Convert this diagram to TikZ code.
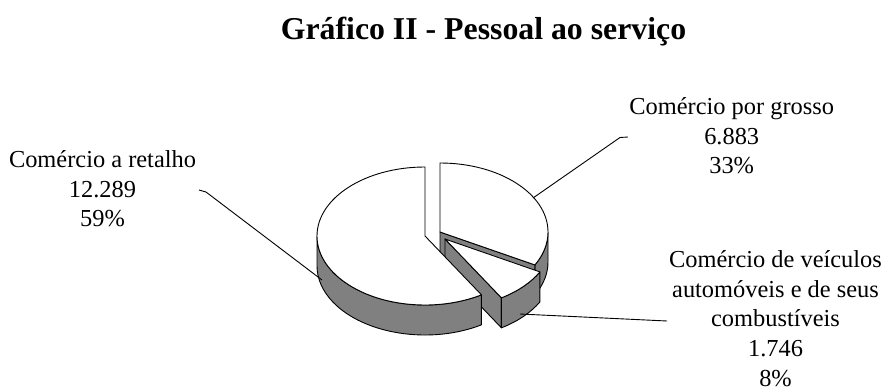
\documentclass[tikz,border=0pt]{standalone}
\usepackage{fontspec}
\setmainfont{Liberation Serif}
\usetikzlibrary{calc,positioning}
\definecolor{sidegray}{RGB}{128,128,128}
\tikzset{wall/.style={draw, fill=sidegray, line width=0.45pt, line join=round}}
\tikzset{slicetop/.style={draw, fill=white, line width=0.45pt, line join=round}}
\tikzset{pielabel/.style={align=center, inner sep=0pt, anchor=north, font=\fontsize{12.2}{14.9}\selectfont}}
\tikzset{leader/.style={draw, line width=0.45pt}}
\tikzset{rim/.style={x radius=108, y radius=69}}

\begin{document}
\begin{tikzpicture}[x=0.5pt, y=0.5pt]
		\useasboundingbox (0,0) rectangle (882,-390);
		\def\dd{30}

		\node [anchor=base, font=\fontsize{15.9}{19}\selectfont\bfseries] (title) at (483.5,-40) {Gráfico II - Pessoal ao serviço};

		% centres of the slices
		\coordinate (c1) at (425,-236);
		\coordinate (c2) at (440,-232);
		\coordinate (c3) at (445,-239);

		% Comercio por grosso
		\path [wall] ($(c2)+(0:108 and 69)$) arc[rim, start angle=0, end angle=-28.5] -- ++(0,-\dd)
			arc[rim, start angle=-28.5, end angle=0] -- cycle;
		\path [wall] (c2) -- ($(c2)+(-28.5:108 and 69)$) -- ++(0,-\dd) -- ($(c2)+(0,-\dd)$) -- cycle;
		\path [slicetop] (c2) -- ($(c2)+(90:108 and 69)$) arc[rim, start angle=90, end angle=-28.5] -- cycle;

		% Comercio de veiculos, cut face
		\path [wall] (c3) -- ($(c3)+(-58.5:108 and 69)$) -- ++(0,-\dd) -- ($(c3)+(0,-\dd)$) -- cycle;

		% Comercio a retalho
		\path [wall] ($(c1)+(180:108 and 69)$) arc[rim, start angle=180, end angle=301.5] -- ++(0,-\dd)
			arc[rim, start angle=301.5, end angle=180] -- cycle;
		\path [slicetop] (c1) -- ($(c1)+(90:108 and 69)$) arc[rim, start angle=90, end angle=301.5] -- cycle;

		% Comercio de veiculos
		\path [wall] ($(c3)+(-58.5:108 and 69)$) arc[rim, start angle=-58.5, end angle=-28.5] -- ++(0,-\dd)
			arc[rim, start angle=-28.5, end angle=-58.5] -- cycle;
		\path [slicetop] (c3) -- ($(c3)+(-28.5:108 and 69)$) arc[rim, start angle=-28.5, end angle=-58.5] -- cycle;

		% labels
		\node [pielabel] (retalho) at (102.5,-150) {Comércio a retalho\\12.289\\59\%};
		\node [pielabel] (grosso) at (731.7,-97) {Comércio por grosso\\6.883\\33\%};
		\node [pielabel] (veiculos) at (775.5,-250) {Comércio de veículos\\automóveis e de seus\\combustíveis\\1.746\\8\%};

		\coordinate (r1) at (199,-190);
		\coordinate (r2) at (206,-192);
		\coordinate (r3) at (322,-280);
		\coordinate (g1) at (628,-137);
		\coordinate (g2) at (620,-137.5);
		\coordinate (g3) at (533,-198);
		\coordinate (v1) at (667,-321);
		\coordinate (v2) at (520,-314);

		\path [leader] (r1) -- (r2) -- (r3);
		\path [leader] (g1) -- (g2) -- (g3);
		\path [leader] (v1) -- (v2);
	\end{tikzpicture}
\end{document}
